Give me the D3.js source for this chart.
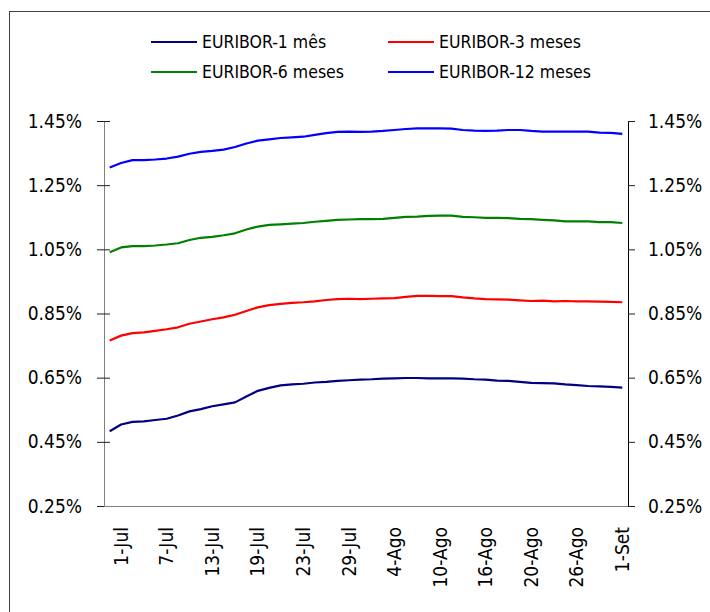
<!DOCTYPE html>
<html>
<head>
    <meta charset="utf-8">
    <title>EURIBOR Jul-Set</title>
    <script src="https://cdnjs.cloudflare.com/ajax/libs/d3/7.8.5/d3.min.js"></script>
    <style>
    body{ margin:0; background:#fff; }
    svg{ display:block; }
    text{ font-family:"DejaVu Sans Condensed","DejaVu Sans",sans-serif; fill:#000; }
    </style>
</head>
<body>
    <svg width="710" height="612"></svg>
    <script>
        // business days, first point has no label
        var dates = ["30-Jun","1-Jul","2-Jul","5-Jul","6-Jul","7-Jul","8-Jul","9-Jul","12-Jul","13-Jul","14-Jul",
            "15-Jul","16-Jul","19-Jul","20-Jul","21-Jul","22-Jul","23-Jul","26-Jul","27-Jul","28-Jul","29-Jul",
            "30-Jul","2-Ago","3-Ago","4-Ago","5-Ago","6-Ago","9-Ago","10-Ago","11-Ago","12-Ago","13-Ago","16-Ago",
            "17-Ago","18-Ago","19-Ago","20-Ago","23-Ago","24-Ago","25-Ago","26-Ago","27-Ago","30-Ago","31-Ago","1-Set"];

        var eur1m = [0.483,0.504,0.512,0.514,0.518,0.522,0.532,0.545,0.552,0.561,0.567,0.573,0.591,0.609,0.618,0.626,
            0.629,0.631,0.635,0.637,0.640,0.642,0.644,0.645,0.647,0.648,0.649,0.649,0.648,0.648,0.648,0.647,0.645,
            0.644,0.641,0.640,0.637,0.634,0.633,0.632,0.629,0.627,0.624,0.623,0.621,0.619];
        var eur3m = [0.766,0.781,0.789,0.791,0.796,0.801,0.807,0.818,0.825,0.832,0.838,0.846,0.858,0.869,0.876,0.880,
            0.883,0.885,0.888,0.892,0.895,0.896,0.895,0.896,0.897,0.898,0.902,0.905,0.905,0.904,0.904,0.900,0.897,
            0.895,0.894,0.893,0.891,0.889,0.890,0.888,0.889,0.888,0.888,0.887,0.886,0.885];
        var eur6m = [1.041,1.056,1.060,1.060,1.062,1.065,1.069,1.079,1.086,1.089,1.094,1.100,1.112,1.121,1.126,1.128,
            1.130,1.132,1.136,1.139,1.142,1.143,1.144,1.144,1.145,1.148,1.151,1.152,1.154,1.155,1.155,1.151,1.150,
            1.148,1.148,1.147,1.145,1.144,1.142,1.140,1.137,1.137,1.137,1.135,1.135,1.132];
        var eur12m = [1.305,1.319,1.328,1.328,1.330,1.333,1.339,1.348,1.354,1.357,1.361,1.369,1.380,1.389,1.393,1.397,
            1.399,1.401,1.407,1.412,1.416,1.417,1.416,1.417,1.419,1.422,1.425,1.427,1.427,1.427,1.426,1.422,1.420,
            1.419,1.420,1.422,1.422,1.419,1.417,1.417,1.417,1.417,1.417,1.414,1.413,1.410];

        var yTicks = [0.25, 0.45, 0.65, 0.85, 1.05, 1.25, 1.45];

        var series = [
            {name:"EURIBOR-1 mês", values:eur1m, color:"#000080"},
            {name:"EURIBOR-3 meses", values:eur3m, color:"#ff0000"},
            {name:"EURIBOR-6 meses", values:eur6m, color:"#008000"},
            {name:"EURIBOR-12 meses", values:eur12m, color:"#0000ff"}
        ];

        var svg = d3.select("svg");

        // outer frame (runs off the right and bottom edge)
        svg.append("rect")
            .attr("x", 9.5).attr("y", 11.5)
            .attr("width", 760).attr("height", 660)
            .attr("fill", "none").attr("stroke", "#404040");

        var pLeft = 104, pRight = 628, pTop = 121, pBottom = 506;

        var x = d3.scaleBand().domain(dates).range([pLeft, pRight]);
        var y = d3.scaleLinear().domain([0.25, 1.45]).range([pBottom, pTop]);
        var fmt = function(d){ return d.toFixed(2) + "%"; };

        // left axis, ticks cross the line
        var gl = svg.append("g").attr("transform", "translate(" + pLeft + ",0)")
            .call(d3.axisLeft(y).tickValues(yTicks).tickFormat(fmt).tickSize(7).tickPadding(15));
        gl.select(".domain").attr("stroke", "#808080").attr("d", "M0.5," + pTop + "V" + pBottom);
        gl.selectAll(".tick line").attr("x1", 6).attr("stroke", "#202020");
        gl.selectAll("text").style("font-size", "19px");

        // right axis
        var gr = svg.append("g").attr("transform", "translate(" + pRight + ",0)")
            .call(d3.axisRight(y).tickValues(yTicks).tickFormat(fmt).tickSize(7).tickPadding(13));
        gr.select(".domain").attr("stroke", "#000").attr("d", "M0.5," + pTop + "V" + pBottom);
        gr.selectAll(".tick line").attr("stroke", "#202020");
        gr.selectAll("text").style("font-size", "19px");

        // bottom axis, labels every 4th day
        var gb = svg.append("g").attr("transform", "translate(0," + pBottom + ")")
            .call(d3.axisBottom(x)
                .tickValues(dates.filter(function(d, i){ return i % 4 == 1; }))
                .tickSize(0));
        gb.select(".domain").attr("stroke", "#808080").attr("d", "M" + pLeft + ",0.5H" + pRight);
        gb.selectAll("text")
            .attr("transform", "rotate(-90)")
            .attr("x", -21).attr("y", 0).attr("dy", "0.35em")
            .attr("text-anchor", "end")
            .style("font-size", "19px");
        svg.selectAll(".tick text").attr("fill", "#000");

        var line = d3.line()
            .x(function(d, i){ return x(dates[i]) + x.bandwidth() / 2; })
            .y(function(d){ return y(d); });

        svg.selectAll("path.serie")
            .data(series)
            .enter()
            .append("path")
            .attr("class", "serie")
            .attr("d", function(s){ return line(s.values); })
            .attr("fill", "none")
            .attr("stroke", function(s){ return s.color; })
            .attr("stroke-width", 2.2)
            .attr("stroke-linejoin", "round");

        // legend, two columns
        var leg = svg.selectAll("g.leg")
            .data(series)
            .enter()
            .append("g")
            .attr("class", "leg")
            .attr("transform", function(d, i){
                return "translate(" + (i % 2 ? 388 : 151) + "," + (i < 2 ? 42 : 72) + ")";
            });
        leg.append("line")
            .attr("x1", 0).attr("x2", 46)
            .attr("stroke", function(d){ return d.color; })
            .attr("stroke-width", 2.2);
        leg.append("text")
            .attr("x", 51).attr("dy", "0.35em")
            .style("font-size", "17.5px")
            .text(function(d){ return d.name; });
    </script>
</body>
</html>
